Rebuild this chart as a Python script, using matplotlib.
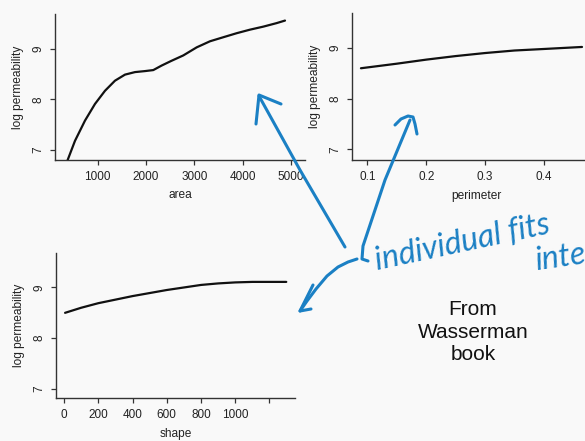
import numpy as np
import matplotlib
matplotlib.use("Agg")
import matplotlib.pyplot as plt

# curves
area = [370, 530, 737, 944, 1151, 1358, 1565, 1772, 1979, 2151, 2325, 2520,
        2772, 3050, 3325, 3600, 3878, 4153, 4429, 4706, 4878]
area_fit = [6.78, 7.18, 7.58, 7.91, 8.17, 8.37, 8.49, 8.54, 8.56, 8.58, 8.67, 8.76,
            8.87, 9.03, 9.15, 9.23, 9.31, 9.38, 9.44, 9.51, 9.56]

perimeter = [0.089, 0.15, 0.2, 0.25, 0.3, 0.35, 0.4, 0.465]
perimeter_fit = [8.60, 8.69, 8.77, 8.84, 8.90, 8.95, 8.98, 9.02]

shape = [6, 100, 200, 300, 400, 500, 600, 700, 800, 900, 1000, 1100, 1298]
shape_fit = [8.50, 8.60, 8.69, 8.76, 8.83, 8.89, 8.95, 9.00, 9.05, 9.08, 9.10, 9.11, 9.11]

yticks = [7, 8, 9]
area_ticks = [1000, 2000, 3000, 4000, 5000]
perimeter_ticks = [0.1, 0.2, 0.3, 0.4]
shape_ticks = [0, 200, 400, 600, 800, 1000, 1200]
shape_labels = ["0", "200", "400", "600", "800", "1000", ""]

plt.rcParams["font.family"] = ["Liberation Sans", "DejaVu Sans"]

W, H = 585, 441
fig = plt.figure(figsize=(5.85, 4.41), dpi=100, facecolor="#f9f9f9")
BLUE = "#1b80c4"
INK = "#222222"


def make_axes(left, right, top, bottom):
    # pixel box -> figure fraction
    return fig.add_axes([left / W, 1 - bottom / H, (right - left) / W, (bottom - top) / H])


def style(ax, x, y, xlim, ylim, xticks, xlabels, xlabel):
    ax.plot(x, y, color="#111111", lw=1.6, solid_capstyle="round")
    ax.set_xlim(*xlim)
    ax.set_ylim(*ylim)
    ax.set_facecolor("none")
    for s in ["top", "right"]:
        ax.spines[s].set_visible(False)
    for s in ["left", "bottom"]:
        ax.spines[s].set_color("#333333")
        ax.spines[s].set_linewidth(1.0)
    ax.set_xticks(xticks)
    ax.set_xticklabels(xlabels)
    ax.set_yticks(yticks)
    ax.set_yticklabels([str(t) for t in yticks], rotation=90, va="center")
    ax.tick_params(direction="out", length=3.6, width=0.9, color="#333333",
                   labelsize=8.5, labelcolor=INK, pad=4)
    ax.set_xlabel(xlabel, fontsize=8.6, color=INK, labelpad=5)
    ax.set_ylabel("log permeability", fontsize=8.6, color=INK, labelpad=6)


ax1 = make_axes(55, 305, 14, 160)
style(ax1, area, area_fit, (116, 5292), (6.80, 9.69), area_ticks,
      [str(t) for t in area_ticks], "area")

ax2 = make_axes(352, 600, 13, 160)
style(ax2, perimeter, perimeter_fit, (0.0738, 0.4956), (6.79, 9.69), perimeter_ticks,
      [str(t) for t in perimeter_ticks], "perimeter")

ax3 = make_axes(56, 295, 253, 398)
style(ax3, shape, shape_fit, (-47, 1349), (6.82, 9.68), shape_ticks,
      shape_labels, "shape")

fig.text(473 / W, 1 - 332 / H, "From\nWasserman\nbook", ha="center", va="center",
         fontsize=15, color="#111111", linespacing=1.22)

# hand-drawn annotation layer, in pixel coordinates
over = fig.add_axes([0, 0, 1, 1])
over.set_xlim(0, W)
over.set_ylim(H, 0)
over.axis("off")
over.patch.set_alpha(0)

strokes = [
    # arrow to area panel
    [(345, 247), (300, 170), (259, 96)],
    [(256, 124), (259, 95), (281, 104)],
    # arrow to perimeter panel
    [(368, 261), (362, 259), (363, 246), (385, 180), (410, 120)],
    [(395, 125), (401, 119), (408, 116), (413, 117), (415, 124), (417, 134)],
    # arrow to shape panel
    [(357, 259), (348, 262), (338, 267), (327, 276), (316, 289), (307, 301), (300, 311)],
    [(313, 285), (300, 311), (311, 309)],
]
for pts in strokes:
    xs, ys = zip(*pts)
    over.plot(xs, ys, color=BLUE, lw=2.2, solid_capstyle="round",
              solid_joinstyle="round")

hand = dict(color=BLUE, fontsize=23, style="italic", weight="normal",
            family=["Lato", "DejaVu Sans"], rotation_mode="anchor",
            ha="left", va="baseline")
over.text(377, 270, "individual fits", rotation=12, **hand)
over.text(537, 270, "inte", rotation=8, **hand)

fig.savefig("out.png", dpi=100, facecolor=fig.get_facecolor())
